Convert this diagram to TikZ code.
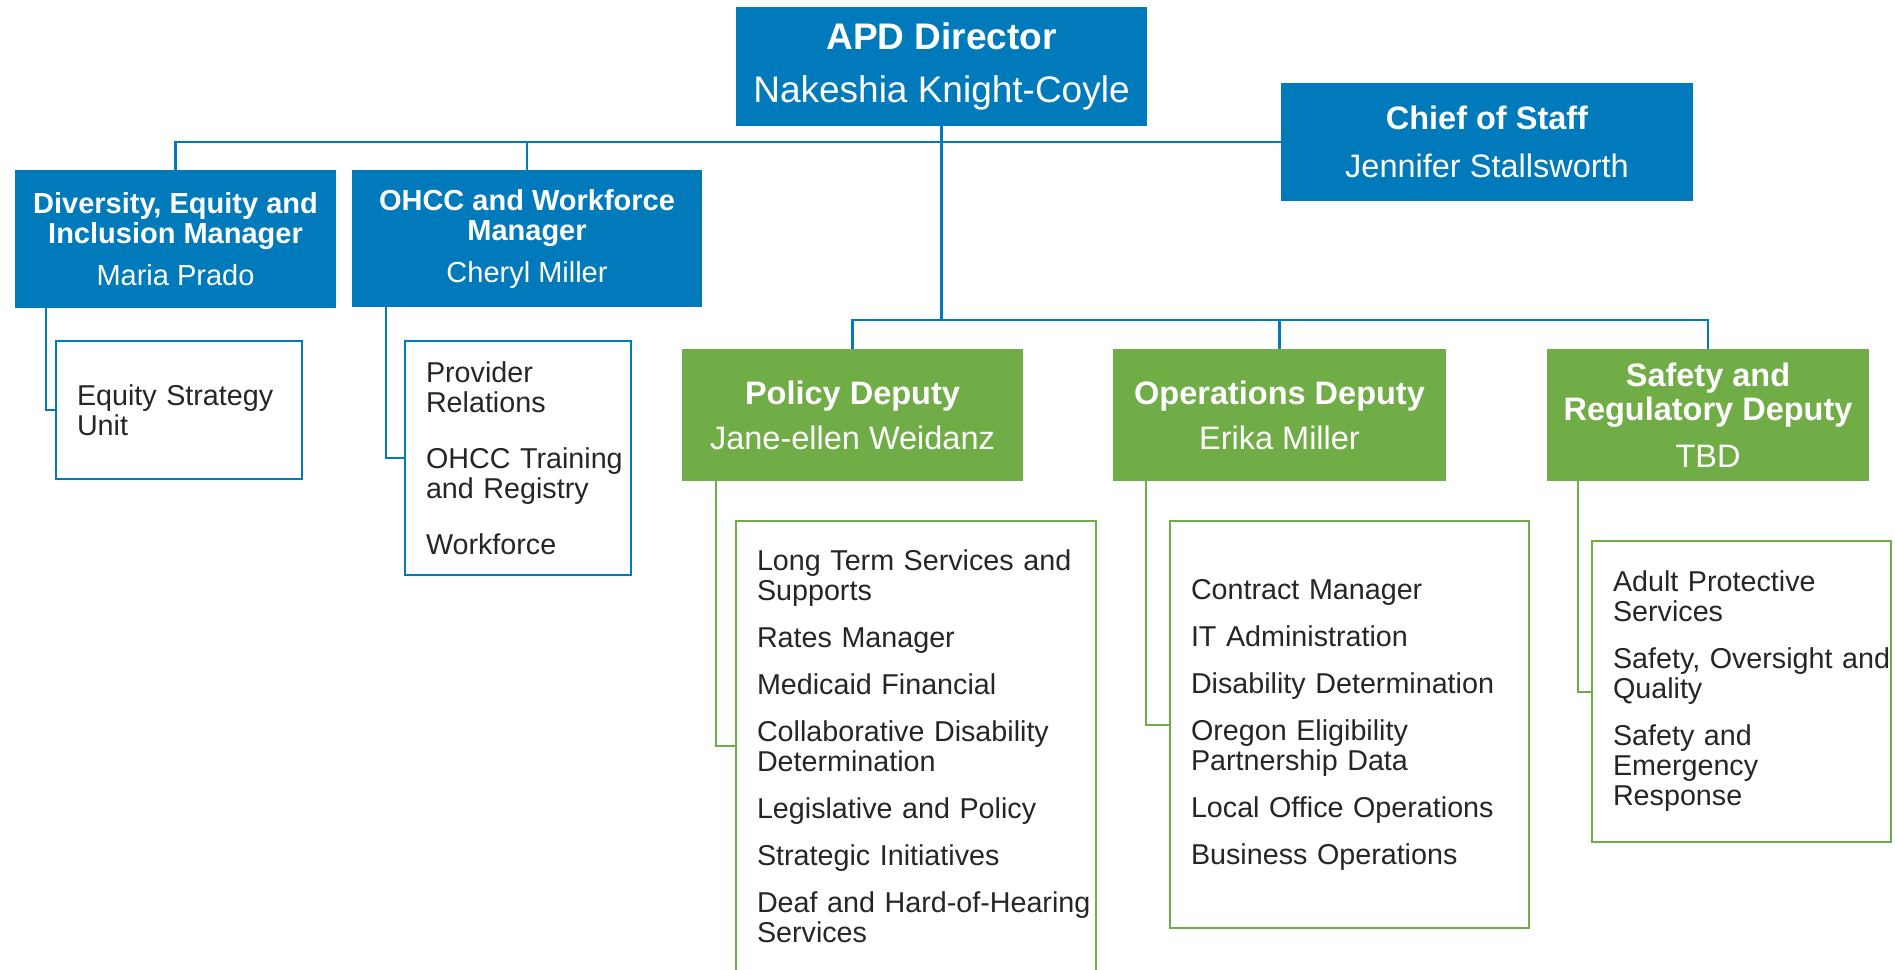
\documentclass[tikz,border=0pt]{standalone}
\usepackage{fontspec}
\setmainfont{Liberation Sans}
\usetikzlibrary{positioning}
\definecolor{apdblue}{RGB}{0,122,187}
\definecolor{apdgreen}{RGB}{112,173,71}
\definecolor{listgray}{RGB}{38,38,38}
\begin{document}
\begin{tikzpicture}[x=1pt,y=-1pt,
    bluebox/.style={fill=apdblue, text=white, align=center, inner sep=0pt},
    greenbox/.style={fill=apdgreen, text=white, align=center, inner sep=0pt,
        minimum height=132pt, font=\fontsize{32.5}{34}\selectfont},
    listbox/.style={draw, line width=2pt, fill=white, text=listgray, align=left,
        inner xsep=21pt, inner ysep=0pt, font=\fontsize{28.7}{30}\selectfont},
    bline/.style={apdblue, line width=2.5pt},
    gline/.style={apdgreen, line width=2pt}]
    \clip (0,0) rectangle (1895,969);

    % Direcao
    \node[bluebox, minimum width=411pt, minimum height=119pt, font=\fontsize{37}{44}\selectfont]
        (apd) at (941.5,66.5) {\textbf{APD Director}\\[9pt]Nakeshia Knight-Coyle};
    \node[bluebox, minimum width=412pt, minimum height=118pt, font=\fontsize{32.5}{38}\selectfont]
        (cos) at (1487,142) {\textbf{Chief of Staff}\\[10pt]Jennifer Stallsworth};

    % Gerentes
    \node[bluebox, minimum width=321pt, minimum height=138pt, font=\fontsize{29}{30}\selectfont]
        (dei) at (175.5,239) {\textbf{Diversity, Equity and}\\\textbf{Inclusion Manager}\\[12pt]Maria Prado};
    \node[bluebox, minimum width=350pt, minimum height=137pt, font=\fontsize{29}{30}\selectfont]
        (ohcc) at (527,238.5) {\textbf{OHCC and Workforce}\\\textbf{Manager}\\[12pt]Cheryl Miller};

    % Deputies
    \node[greenbox, minimum width=341pt] (policy) at (852.5,415) {\textbf{Policy Deputy}\\[11pt]Jane-ellen Weidanz};
    \node[greenbox, minimum width=333pt] (ops) at (1279.5,415) {\textbf{Operations Deputy}\\[11pt]Erika Miller};
    \node[greenbox, minimum width=322pt] (safety) at (1708,415) {\textbf{Safety and}\\\textbf{Regulatory Deputy}\\[13pt]TBD};

    % Unidades
    \node[listbox, draw=apdblue, text width=204pt, minimum height=138pt]
        (equity) at (179,410) {Equity Strategy\\Unit};
    \node[listbox, draw=apdblue, text width=184pt, minimum height=234pt]
        (provider) at (518,458) {Provider\\Relations\\[26pt]\mbox{OHCC Training}\\and Registry\\[26pt]Workforce};
    \node[listbox, draw=apdgreen, text width=318pt, minimum height=450pt]
        (policylist) at (916,746) {Long Term Services and\\Supports\\[17pt]Rates Manager\\[17pt]Medicaid Financial\\[17pt]Collaborative Disability\\Determination\\[17pt]Legislative and Policy\\[17pt]Strategic Initiatives\\[17pt]\mbox{Deaf and Hard-of-Hearing}\\Services};
    \node[listbox, draw=apdgreen, text width=317pt, minimum height=407pt]
        (opslist) at (1349.5,724.5) {Contract Manager\\[17pt]IT Administration\\[17pt]Disability Determination\\[17pt]Oregon Eligibility\\Partnership Data\\[17pt]Local Office Operations\\[17pt]Business Operations};
    \node[listbox, draw=apdgreen, text width=257pt, minimum height=301pt]
        (safetylist) at (1741.5,691.5) {Adult Protective\\Services\\[17pt]\mbox{Safety, Oversight and}\\Quality\\[17pt]Safety and\\Emergency\\Response};

    % Linhas do topo
    \draw[bline] (dei.north) |- (cos.west);
    \draw[bline] (ohcc.north) -- (ohcc.north |- cos.west);
    \coordinate (depbar) at ([yshift=29pt]ops.north);
    \draw[bline] (apd.south) -- (apd.south |- depbar);
    \draw[bline] (policy.north) |- (depbar) -| (safety.north);
    \draw[bline] (ops.north) -- (depbar);

    % Linhas para as unidades
    \draw[bline] ([xshift=31pt]dei.south west) |- (equity.west);
    \draw[bline] ([xshift=34pt]ohcc.south west) |- (provider.west);
    \draw[gline] ([xshift=34pt]policy.south west) |- (policylist.west);
    \draw[gline] ([xshift=33pt]ops.south west) |- (opslist.west);
    \draw[gline] ([xshift=31pt]safety.south west) |- (safetylist.west);
\end{tikzpicture}
\end{document}
